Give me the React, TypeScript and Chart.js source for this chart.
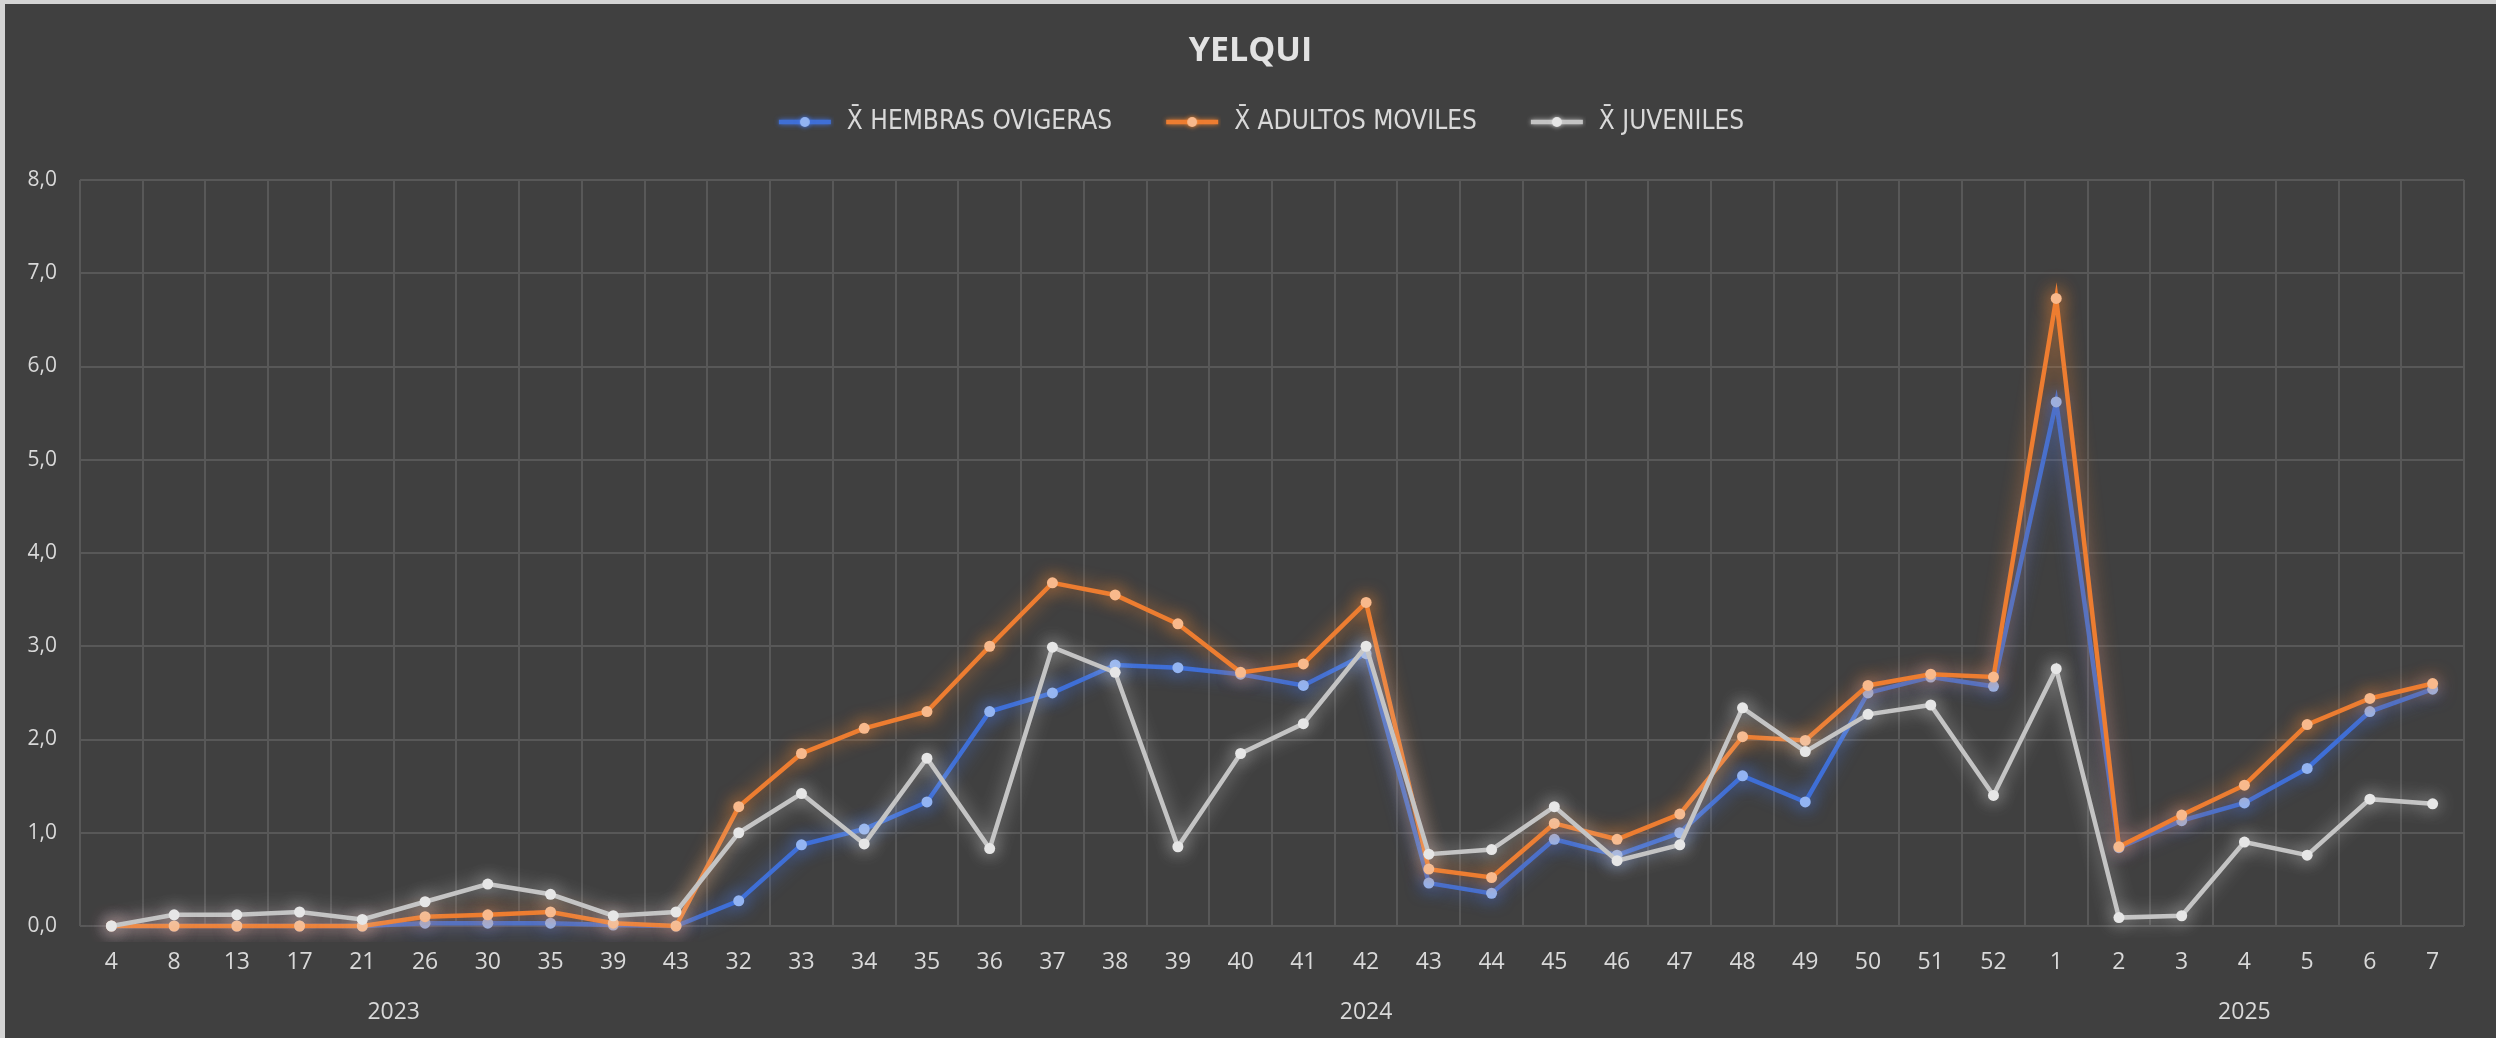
import React, { useEffect, useRef } from 'react';
import { Chart, registerables } from 'chart.js';

Chart.register(...registerables);

// ---- data ----
const weekLabels = [
  '4', '8', '13', '17', '21', '26', '30', '35', '39', '43',
  '32', '33', '34', '35', '36', '37', '38', '39', '40', '41', '42', '43', '44', '45', '46', '47', '48', '49', '50', '51', '52',
  '1', '2', '3', '4', '5', '6', '7',
];
const years = ['2023', '2024', '2025'];
const yearSizes = [10, 21, 7];

const seriesNames = ['X̄ HEMBRAS OVIGERAS', 'X̄ ADULTOS MOVILES', 'X̄ JUVENILES'];

const hembras = [
  0, 0, 0, 0, 0, 0.03, 0.03, 0.03, 0.01, 0,
  0.27, 0.87, 1.04, 1.33, 2.30, 2.50, 2.80, 2.77, 2.70, 2.58, 2.92, 0.46, 0.35, 0.93, 0.76, 1.0, 1.61, 1.33, 2.50, 2.67, 2.57,
  5.62, 0.84, 1.13, 1.32, 1.69, 2.30, 2.54,
];
const adultos = [
  0, 0, 0, 0, 0, 0.10, 0.12, 0.15, 0.03, 0,
  1.28, 1.85, 2.12, 2.30, 3.00, 3.68, 3.55, 3.24, 2.72, 2.81, 3.47, 0.61, 0.52, 1.10, 0.93, 1.20, 2.03, 1.99, 2.58, 2.70, 2.67,
  6.73, 0.85, 1.19, 1.51, 2.16, 2.44, 2.60,
];
const juveniles = [
  0, 0.12, 0.12, 0.15, 0.07, 0.26, 0.45, 0.34, 0.11, 0.15,
  1.0, 1.42, 0.88, 1.80, 0.83, 2.99, 2.72, 0.85, 1.85, 2.17, 3.0, 0.77, 0.82, 1.28, 0.70, 0.87, 2.34, 1.87, 2.27, 2.37, 1.40,
  2.76, 0.09, 0.11, 0.90, 0.76, 1.36, 1.31,
];

const yMin = 0;
const yMax = 8;
const yStep = 1;

// ---- styles ----
const lineColors = ['#3f6fd6', '#ed7d31', '#c4c4c4'];
const pointColors = ['#93b4f2', '#f8b98c', '#e6e6e6'];
const glowColors = ['rgba(70,120,235,0.9)', 'rgba(245,135,50,0.9)', 'rgba(225,225,225,0.7)'];
const textColor = '#d9d9d9';
const gridColor = '#585858';
const bgColor = '#404040';

function makeMarker(line: string, point: string, glow: string): HTMLCanvasElement {
  const c = document.createElement('canvas');
  c.width = 77;
  c.height = 24;
  const g = c.getContext('2d')!;
  g.shadowColor = glow;
  g.shadowBlur = 5;
  g.strokeStyle = line;
  g.lineWidth = 4.5;
  g.beginPath();
  g.moveTo(22, 12);
  g.lineTo(74, 12);
  g.stroke();
  g.fillStyle = point;
  g.beginPath();
  g.arc(48, 12, 5, 0, Math.PI * 2);
  g.fill();
  return c;
}

export default function App() {
  const ref = useRef<HTMLCanvasElement | null>(null);

  useEffect(() => {
    if (!ref.current) return;
    const markers = lineColors.map((c, i) => makeMarker(c, pointColors[i], glowColors[i]));

    // year group centers (in category index units)
    const yearCenters: number[] = [];
    let start = 0;
    yearSizes.forEach((n) => {
      yearCenters.push(start + (n - 1) / 2);
      start += n;
    });

    const seriesValues = [hembras, adultos, juveniles];
    const datasets = seriesValues.map((vals, i) => ({
      label: seriesNames[i],
      data: vals,
      borderColor: lineColors[i],
      backgroundColor: pointColors[i],
      pointBackgroundColor: pointColors[i],
      pointBorderColor: pointColors[i],
      pointBorderWidth: 0,
      pointRadius: 5.5,
      borderWidth: 4.5,
      tension: 0,
      clip: 16,
      order: 3 - i,
      xAxisID: 'x',
      yAxisID: 'y',
    }));

    const glowPlugin = {
      id: 'glow',
      beforeDatasetDraw(chart: any, args: any) {
        const ctx = chart.ctx;
        ctx.save();
        ctx.shadowColor = glowColors[args.index];
        ctx.shadowBlur = 18;
      },
      afterDatasetDraw(chart: any) {
        chart.ctx.restore();
      },
    };

    const chart = new Chart(ref.current, {
      type: 'line',
      data: { labels: weekLabels, datasets },
      plugins: [glowPlugin],
      options: {
        responsive: false,
        maintainAspectRatio: false,
        devicePixelRatio: 1,
        animation: false,
        layout: { padding: 0 },
        plugins: {
          tooltip: { enabled: false },
          title: {
            display: true,
            text: 'YELQUI',
            color: '#e2e2e2',
            font: { family: "'Open Sans', sans-serif", size: 34, weight: 'bold' },
            padding: { top: 26.6, bottom: 5.6 },
          },
          subtitle: {
            display: true,
            text: '',
            font: { size: 10 },
            padding: { top: 23, bottom: 0 },
          },
          legend: {
            display: true,
            position: 'top',
            weight: 1800,
            labels: {
              color: textColor,
              font: { family: "'Liberation Sans Narrow', 'DejaVu Sans Condensed', sans-serif", size: 26 },
              usePointStyle: true,
              pointStyleWidth: 77,
              padding: 32,
              generateLabels: (ch: any) => {
                const items = (Chart.defaults.plugins.legend.labels as any).generateLabels(ch);
                items.sort((a: any, b: any) => a.datasetIndex - b.datasetIndex);
                return items.map((it: any) => ({
                  ...it,
                  pointStyle: markers[it.datasetIndex],
                  fontColor: textColor,
                }));
              },
            },
          },
        },
        scales: {
          x: {
            type: 'category',
            position: 'bottom',
            offset: true,
            weight: 0,
            grid: { display: true, offset: true, color: gridColor, lineWidth: 2, drawTicks: false },
            border: { display: false },
            ticks: {
              color: textColor,
              font: { family: "'Open Sans', sans-serif", size: 23 },
              padding: 22.2,
              autoSkip: false,
              maxRotation: 0,
              minRotation: 0,
            },
            afterFit: (s: any) => {
              s.height = 50;
            },
          },
          x2: {
            type: 'linear',
            position: 'bottom',
            weight: 1,
            min: -0.5,
            max: weekLabels.length - 0.5,
            grid: { display: false, drawTicks: false },
            border: { display: false },
            afterBuildTicks: (s: any) => {
              s.ticks = yearCenters.map((v) => ({ value: v }));
            },
            ticks: {
              color: textColor,
              font: { family: "'Open Sans', sans-serif", size: 23 },
              padding: 22.2,
              autoSkip: false,
              maxRotation: 0,
              minRotation: 0,
              callback: (_v: any, i: number) => years[i],
            },
            afterFit: (s: any) => {
              s.height = 62;
            },
          },
          y: {
            type: 'linear',
            position: 'left',
            min: yMin,
            max: yMax,
            grid: { color: gridColor, lineWidth: 2, drawTicks: false },
            border: { display: false },
            ticks: {
              stepSize: yStep,
              color: textColor,
              font: { family: "'Open Sans', sans-serif", size: 21 },
              padding: 23,
              callback: (v: any) => Number(v).toFixed(1).replace('.', ','),
            },
            afterFit: (s: any) => {
              s.width = 75;
            },
          },
          yR: {
            type: 'linear',
            position: 'right',
            display: true,
            grid: { display: false, drawTicks: false },
            border: { display: false },
            ticks: { display: false },
            afterFit: (s: any) => {
              s.width = 32;
            },
          },
        },
      } as any,
    });

    return () => {
      chart.destroy();
    };
  }, []);

  return (
    <div
      style={{
        position: 'fixed',
        left: 0,
        top: 0,
        width: 2496,
        height: 1038,
        boxSizing: 'border-box',
        background: bgColor,
        borderTop: '4px solid #d4d4d4',
        borderLeft: '5px solid #d4d4d4',
      }}
    >
      <canvas ref={ref} width={2491} height={1034} style={{ display: 'block', width: 2491, height: 1034 }} />
    </div>
  );
}
